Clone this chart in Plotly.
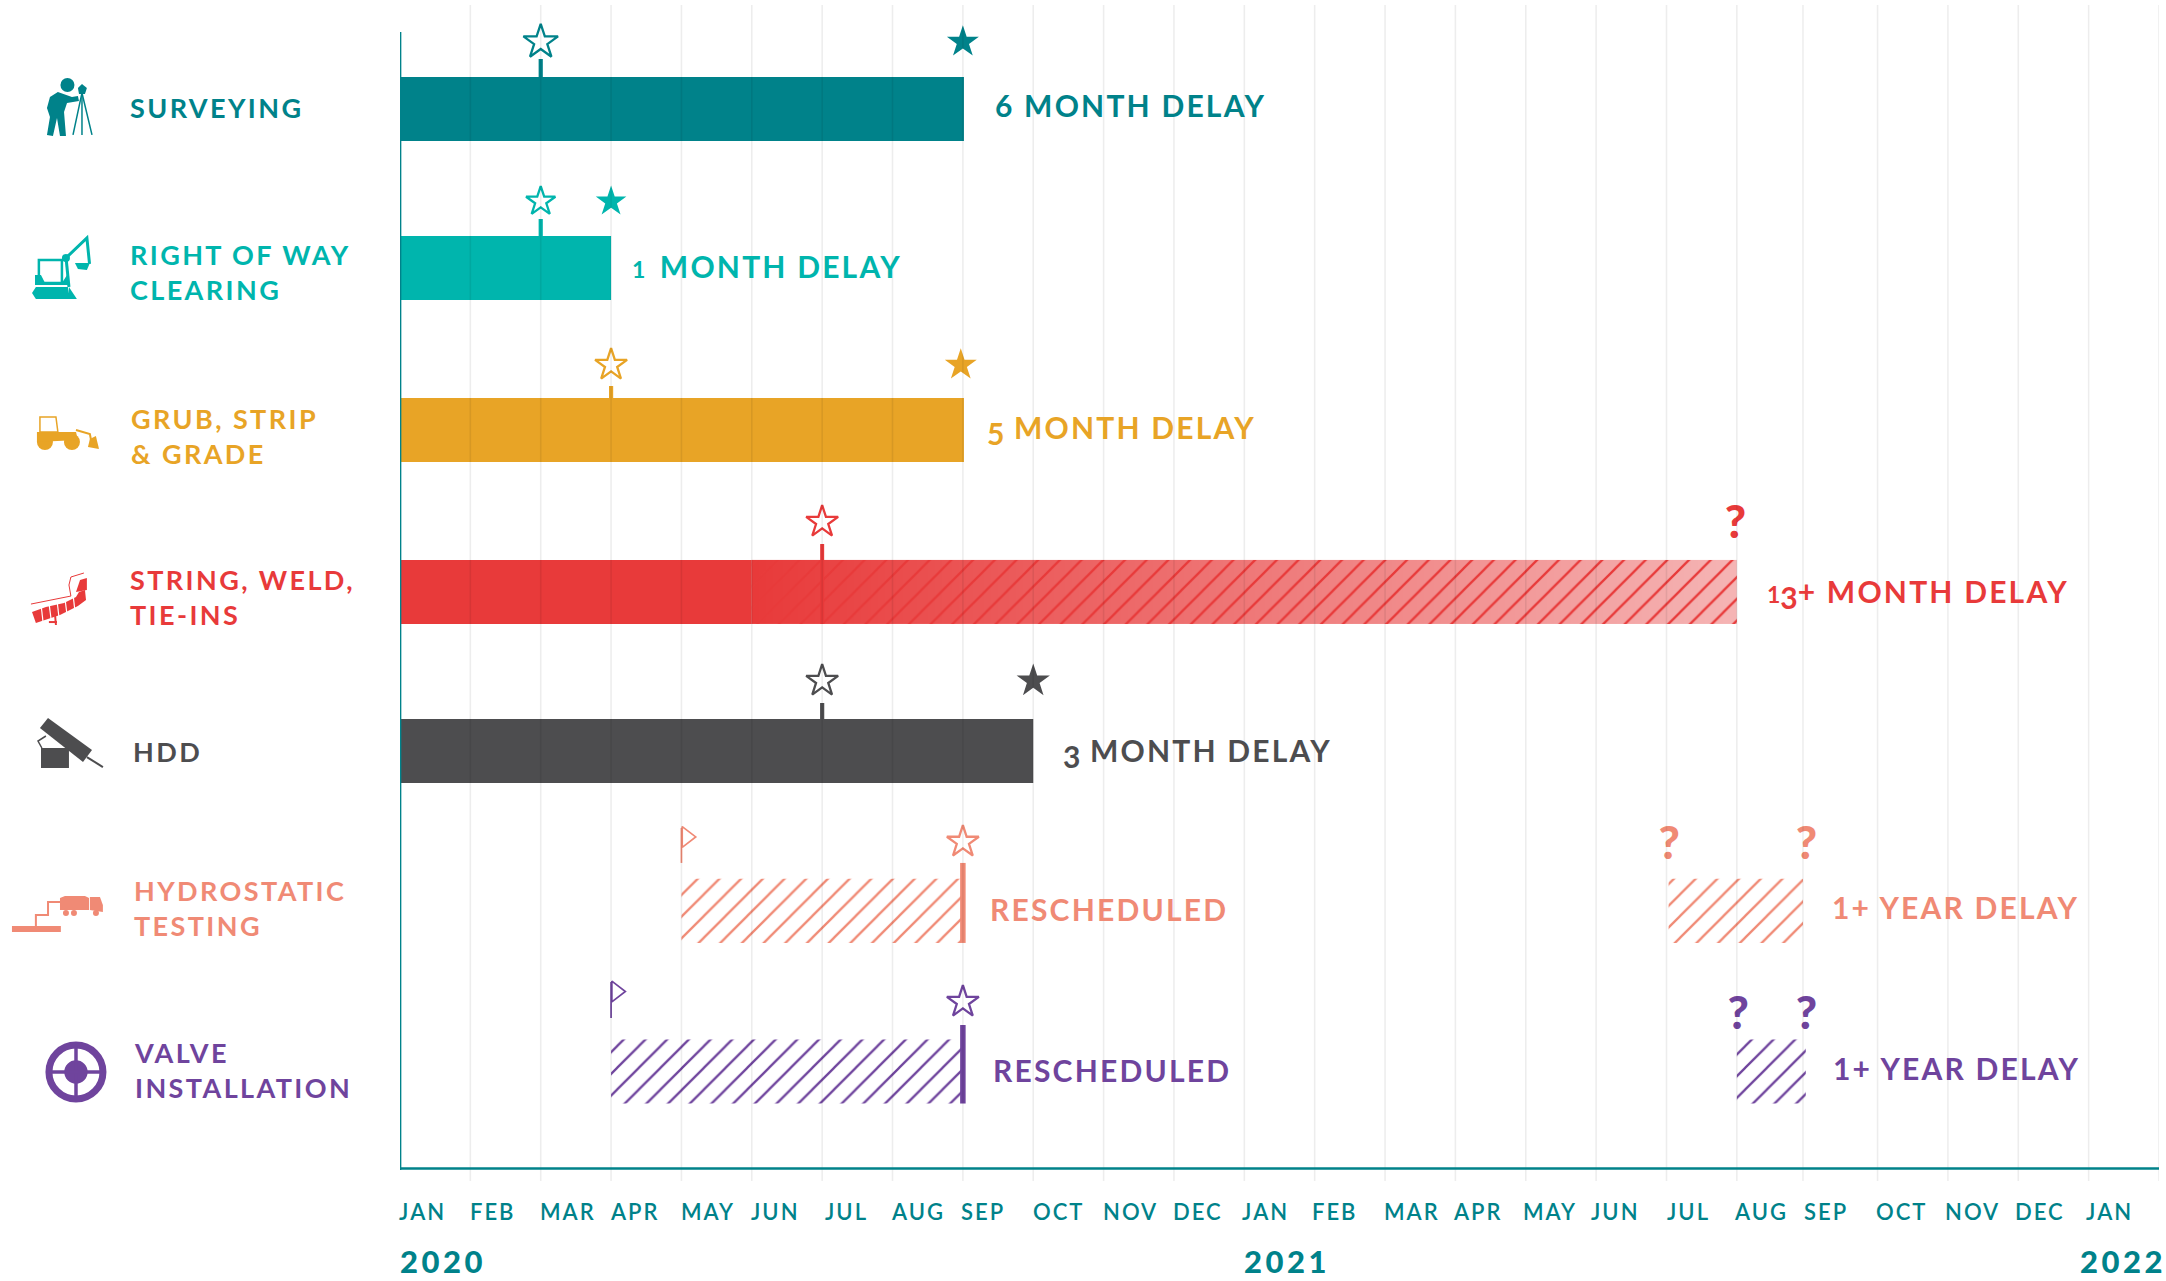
import plotly.graph_objects as go

# ---------- data (x unit: months since Jan 2020) ----------
tasks = ["SURVEYING", "RIGHT OF WAY<br>CLEARING", "GRUB, STRIP<br>& GRADE", "STRING, WELD,<br>TIE-INS",
         "HDD", "HYDROSTATIC<br>TESTING", "VALVE<br>INSTALLATION"]
colors = ["#00828A", "#00B5AD", "#E8A426", "#E83A3A", "#4D4D4F", "#F08A75", "#6F449D"]
row_pos = [0, 0.991, 2.001, 3.011, 4.002, 4.999, 6.0]

solid_rows = [0, 1, 2, 3, 4]
solid_end = [8.015, 3, 8.015, 5, 9]

planned_rows = [0, 1, 2, 3, 4, 5, 6]
planned_month = [2, 2, 3, 6, 6, 8, 8]
actual_rows = [0, 1, 2, 4]
actual_month = [8, 3, 7.97, 9]

hatch_rows = [3, 5, 6, 5, 6]
hatch_start = [5, 4, 3, 18.03, 19]
hatch_end = [19, 8, 8, 19.94, 19.98]

flag_rows = [5, 6]
flag_month = [4, 3]

unknown_rows = [3, 5, 5, 6, 6]
unknown_month = [18.98, 18.04, 19.99, 19.02, 19.99]

status_rows = [0, 1, 2, 3, 4, 5, 6, 5, 6]
status_text = ["6 MONTH DELAY", "1 MONTH DELAY", "5 MONTH DELAY", "13+ MONTH DELAY", "3 MONTH DELAY",
               "RESCHEDULED", "RESCHEDULED", "1+ YEAR DELAY", "1+ YEAR DELAY"]
status_month = [8, 3, 8, 19, 9, 8, 8, 19.94, 19.98]

month_labels = ["JAN", "FEB", "MAR", "APR", "MAY", "JUN", "JUL", "AUG", "SEP", "OCT", "NOV", "DEC",
                "JAN", "FEB", "MAR", "APR", "MAY", "JUN", "JUL", "AUG", "SEP", "OCT", "NOV", "DEC", "JAN"]
years = ["2020", "2021", "2022"]
year_month = [0, 12, 24]
grid_months = [m for m in range(1, 26)]
grid_months[19] = 19.94

# ---------- layout calibration ----------
W, H = 2166, 1281
L, R, T, B = 400, 7.25, 5, 100
PW, PH = W - L - R, H - T - B
MONTH_PX = PW / 25
FONT = "Lato"
TEAL = "#00828A"
ROW0, ROW_STEP = 109, 160.42

def fx(px): return (px - L) / PW
def fy(py): return (H - B - py) / PH
def lift(i, px): return row_pos[i] - px / ROW_STEP

star_lift = [67, 66.5, 65, 70, 70, 69, 69.5]
open_star_size = [26, 22, 24, 24, 24, 24, 24]
filled_star_size = [24, 23, 24, 25]
stem_top = [50, 49, 44, 48, 48, 48, 46.5]
stem_bottom = [32, 32, 32, -32, 32, -32, -32]
stem_width = [4.2, 4.2, 4.2, 4, 4.2, 5.5, 5.5]
unknown_lift = [66, 63, 63, 54.5, 54.5]
flag_top = [83, 89.5]
flag_foot = [48, 53.5]
flag_head = [74, 80]

# old-style figures: low digits are set smaller, descending ones dropped below the baseline
def low(gap): return "<span style='font-size:23px;letter-spacing:%dpx'>1</span>" % gap
def drop(d): return "<span style='baseline-shift:-6px;letter-spacing:0'>%s</span>" % d
def oldstyle(t):
    if t.startswith("13+"):
        return low(0) + drop("3") + t[2:]
    if t.startswith("1 "):
        return low(5) + t[1:]
    if t[0] in "35":
        return drop(t[0]) + t[1:]
    return t

fig = go.Figure()

# solid bars
for r, e in zip(solid_rows, solid_end):
    fig.add_trace(go.Bar(y=[row_pos[r]], x=[e], base=[0], orientation="h", width=0.4,
                         marker=dict(color=colors[r], line=dict(width=0))))

# fading band under the string/weld hatching
n = 280
step = (hatch_end[0] - hatch_start[0]) / n
fig.add_trace(go.Heatmap(x=[hatch_start[0] + i * step for i in range(n + 1)],
                         y=[row_pos[3] - 0.2, row_pos[3] + 0.2],
                         z=[list(range(n))], zmin=0, zmax=n - 1, showscale=False, hoverinfo="skip",
                         colorscale=[[0, "rgb(232,58,58)"], [1, "rgb(245,180,180)"]]))

# hatched bars
for r, s, e in zip(hatch_rows, hatch_start, hatch_end):
    fig.add_trace(go.Bar(y=[row_pos[r]], x=[e - s], base=[s], orientation="h", width=0.4,
                         marker=dict(color="rgba(0,0,0,0)", line=dict(width=0),
                                     pattern=dict(shape="/", size=15.34, solidity=0.15, fgcolor=colors[r],
                                                  bgcolor="rgba(0,0,0,0)", fillmode="replace"))))

# stems below planned stars
for r, m, t, bt, w in zip(planned_rows, planned_month, stem_top, stem_bottom, stem_width):
    fig.add_trace(go.Scatter(x=[m, m], y=[lift(r, t), lift(r, bt)], mode="lines",
                             line=dict(color=colors[r], width=w)))

# planned (open) stars
for r, m, s in zip(planned_rows, planned_month, open_star_size):
    fig.add_trace(go.Scatter(x=[m], y=[lift(r, star_lift[r])], mode="markers",
                             marker=dict(symbol="star-open", size=s, color=colors[r], line=dict(width=2.3, color=colors[r]))))
# actual (filled) stars
for r, m, s in zip(actual_rows, actual_month, filled_star_size):
    fig.add_trace(go.Scatter(x=[m], y=[lift(r, star_lift[r])], mode="markers",
                             marker=dict(symbol="star", size=s, color=colors[r], line=dict(width=0))))
# flags
for r, m, top, foot, head in zip(flag_rows, flag_month, flag_top, flag_foot, flag_head):
    fig.add_trace(go.Scatter(x=[m, m], y=[lift(r, top), lift(r, foot)], mode="lines",
                             line=dict(color=colors[r], width=1.7)))
    fig.add_trace(go.Scatter(x=[m + 0.075], y=[lift(r, head)], mode="markers",
                             marker=dict(symbol="triangle-right-open", size=18, color=colors[r], line=dict(width=1.7, color=colors[r]))))
# question marks
for r, m, u in zip(unknown_rows, unknown_month, unknown_lift):
    fig.add_trace(go.Scatter(x=[m], y=[lift(r, u)], mode="text", text=["?"], textposition="middle center",
                             textfont=dict(family=FONT, size=46, weight=900, color=colors[r])))

ann = []
# status labels right of bars
status_shift = [31, 20, 23, 29, 29, 26, 29, 28.5, 26.5]
status_dy = [4, 2, -0.4, -1.8, -1.8, 2, 2, 4, 4]
for r, t, m, s, d in zip(status_rows, status_text, status_month, status_shift, status_dy):
    ann.append(dict(x=m, y=row_pos[r], xref="x", yref="y", xanchor="left", yanchor="middle", xshift=s, yshift=d,
                    text=oldstyle(t), align="left", showarrow=False, borderpad=0,
                    font=dict(family=FONT, size=30, weight=700, color=colors[r])))
# task labels
label_left = [129, 129, 130, 129.5, 132, 133, 133]
label_dy = [1.5, -4, -5.5, -5, 0, 2.5, 1.5]
for i, t in enumerate(tasks):
    ann.append(dict(x=fx(label_left[i]), y=row_pos[i], xref="paper", yref="y", xanchor="left", yanchor="middle",
                    yshift=label_dy[i], text=t, align="left", showarrow=False, borderpad=0,
                    font=dict(family=FONT, size=27, weight=700, color=colors[i])))
# month labels
month_left = [397.5, 469.2, 539.2, 609.3, 679.9, 749.9, 823.5, 889.5, 960, 1031.5, 1101.5, 1171.5,
              1240.5, 1310.5, 1382.5, 1451.5, 1521.5, 1589.5, 1666, 1732.5, 1803, 1874.5, 1943.5, 2013.5, 2084.5]
for i, t in enumerate(month_labels):
    ann.append(dict(x=i, y=fy(1211), xref="x", yref="paper", xanchor="left", yanchor="middle",
                    xshift=month_left[i] - (L + i * MONTH_PX), text=t, align="left", showarrow=False, borderpad=0,
                    font=dict(family=FONT, size=22, weight=600, color=TEAL)))
# years
year_shift = [-1, -1, -10]
for t, m, s in zip(years, year_month, year_shift):
    ann.append(dict(x=m, y=fy(1261), xref="x", yref="paper", xanchor="left", yanchor="middle", xshift=s,
                    text=t, align="left", showarrow=False, borderpad=0,
                    font=dict(family=FONT, size=31, weight=900, color=TEAL)))

# ---------- shapes ----------
shapes = []
for m in grid_months:
    shapes.append(dict(type="line", xref="x", yref="paper", x0=m, x1=m, y0=0, y1=1, layer="above",
                       line=dict(color="rgba(0,0,0,0.07)", width=1.6)))
shapes.append(dict(type="line", xref="x", yref="paper", x0=0, x1=0, y0=fy(1170), y1=fy(32), layer="above",
                   line=dict(color=TEAL, width=2.7)))
shapes.append(dict(type="line", xref="x", yref="paper", x0=0, x1=25, y0=fy(1168.5), y1=fy(1168.5), layer="above",
                   line=dict(color=TEAL, width=2.7)))

def poly(pts, c, fill=True, lw=0, close=True):
    d = "M" + "L".join("%.4f,%.4f" % (fx(x), fy(y)) for x, y in pts) + ("Z" if close else "")
    return dict(type="path", xref="paper", yref="paper", path=d, layer="above",
                fillcolor=c if fill else "rgba(0,0,0,0)", line=dict(color=c, width=lw))
def circ(x, y, r, c, fill=True, lw=0):
    return dict(type="circle", xref="paper", yref="paper", x0=fx(x - r), x1=fx(x + r), y0=fy(y + r), y1=fy(y - r),
                layer="above", fillcolor=c if fill else "rgba(0,0,0,0)", line=dict(color=c, width=lw))

# surveyor
c = colors[0]
shapes += [circ(67.5, 85, 7, c),
           poly([(58, 92), (72, 97), (78, 96), (79, 101), (67, 103), (64, 112), (66, 136), (60, 136), (57, 118), (53, 136),
                 (47, 135), (50, 117), (47, 108), (50, 97)], c),
           poly([(73, 135), (82, 93), (92, 135)], c, False, 1.5, False),
           poly([(82, 93), (82, 135)], c, False, 1.5, False),
           poly([(78, 88), (82, 84), (87, 88), (85, 94), (79, 94)], c)]
# excavator
c = colors[1]
shapes += [poly([(36, 287), (68, 287), (70, 299), (36, 299), (32, 293)], c),
           poly([(69, 287), (77, 299), (69, 299)], c),
           poly([(39, 260), (62, 260), (62, 283), (39, 283)], c, False, 2.5),
           poly([(35, 275), (41, 275), (45, 283), (62, 283), (69, 272), (69, 285), (35, 285)], c),
           poly([(66, 257), (69, 287)], c, False, 3, False),
           poly([(66, 258), (87, 238), (89.5, 264)], c, False, 3, False),
           poly([(75, 263), (90, 263), (87, 270), (78, 269)], c),
           circ(66, 258, 4, c)]
# loader
c = colors[2]
shapes += [circ(45, 442, 8, c), circ(72, 442, 8, c),
           poly([(37, 432), (76, 432), (78, 440), (37, 442)], c),
           poly([(40, 417), (56, 417), (58, 432), (40, 432)], c, False, 1.5),
           poly([(76, 430), (90, 434), (92, 445)], c, False, 2, False),
           poly([(90, 439), (96, 436), (99, 449), (88, 447)], c)]
# pipe
c = colors[3]
shapes += [poly([(32, 612), (46, 607), (64, 603), (76, 597), (79, 592), (85, 590), (86, 600), (78, 606), (60, 615), (36, 623)], c),
           poly([(76, 592), (80, 580), (87, 578), (87, 590)], c),
           poly([(31, 604), (71, 596), (69, 585), (71, 577), (84, 573)], c, False, 1, False),
           poly([(55, 613), (56, 625)], c, False, 2, False),
           poly([(49, 622), (57, 622)], c, False, 2, False)]
for x0, y0 in [(41, 604), (49, 602), (57, 600), (65, 598), (73, 594)]:
    shapes.append(poly([(x0, y0), (x0 + 2, y0 + 17)], "#FFFFFF", False, 1.2, False))
# HDD
c = colors[4]
shapes += [poly([(48, 718), (92, 750), (83, 762), (40, 728)], c),
           poly([(41, 748), (69, 748), (69, 768), (41, 768)], c),
           poly([(87, 757), (103, 767)], c, False, 2, False),
           poly([(42, 748), (38, 741), (46, 736)], c, False, 1.5, False)]
# truck
c = colors[5]
shapes += [poly([(12, 926), (61, 926), (61, 932), (12, 932)], c),
           poly([(36, 926), (36, 915), (48, 915), (48, 902), (60, 902)], c, False, 2, False),
           poly([(60, 898), (65, 896), (85, 896), (89, 898), (89, 910), (60, 910)], c),
           poly([(90, 897), (100, 897), (103, 905), (103, 912), (90, 910)], c),
           circ(66, 913, 3, c), circ(74, 913, 3, c), circ(96, 913, 3, c)]
# valve
c = colors[6]
shapes += [circ(76, 1072, 27, c, False, 7), circ(76, 1072, 11.7, c),
           poly([(76, 1046), (76, 1098)], c, False, 3.5, False),
           poly([(50, 1072), (102, 1072)], c, False, 3.5, False)]

fig.update_layout(
    width=W, height=H, autosize=False, showlegend=False,
    margin=dict(l=L, r=R, t=T, b=B, pad=0),
    paper_bgcolor="#FFFFFF", plot_bgcolor="#FFFFFF", barmode="overlay",
    xaxis=dict(range=[0, 25], showgrid=False, zeroline=False, showticklabels=False, ticks="", showline=False, fixedrange=True),
    yaxis=dict(range=[(H - B - ROW0) / ROW_STEP, (T - ROW0) / ROW_STEP], showgrid=False, zeroline=False,
               showticklabels=False, ticks="", showline=False, fixedrange=True),
    annotations=ann, shapes=shapes, hovermode=False,
)

# letter spacing for the label typography (plotly has no attribute for it)
css = """
.annotation-text[style*="font-size: 27px"]{letter-spacing:2.4px;}
.annotation-text[style*="font-size: 30px"]{letter-spacing:2.2px;}
.annotation-text[style*="font-size: 22px"]{letter-spacing:2px;}
.annotation-text[style*="font-size: 31px"]{letter-spacing:3.5px;}
"""
post = ("document.body.style.margin='0';"
        "var st=document.createElement('style');st.textContent=%r;document.head.appendChild(st);" % css)
fig.write_html("out.html", config={"displayModeBar": False}, post_script=post)
